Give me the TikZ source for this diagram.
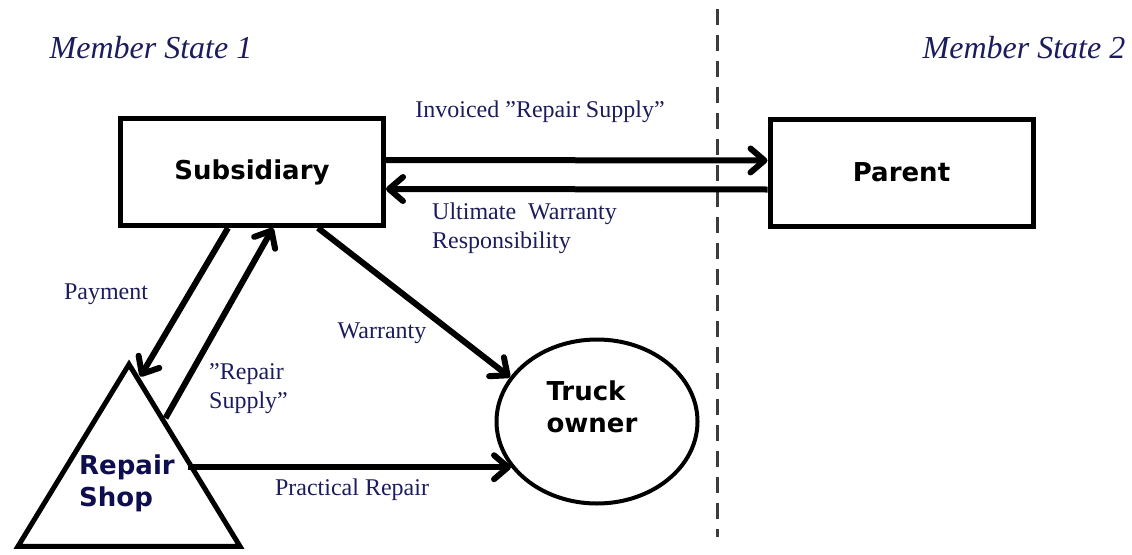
\documentclass[tikz,border=0pt]{standalone}
\usepackage{fontspec}
\setmainfont{Liberation Serif}
\newfontfamily\boxfont{DejaVu Sans}
\usetikzlibrary{arrows.meta,positioning,shapes.geometric}
\definecolor{ink}{HTML}{000000}
\definecolor{navy}{HTML}{1C1C5C}
\definecolor{shopnavy}{HTML}{0E0E4E}
\definecolor{dashgray}{HTML}{3C3C3C}
\tikzset{
  box/.style={draw=ink, line width=5pt, fill=white, minimum width=263pt, minimum height=107pt, inner sep=0pt, font=\boxfont\bfseries\fontsize{26}{32}\selectfont},
  boxtext/.style={font=\boxfont\bfseries\fontsize{26}{32}\selectfont, text=ink, align=left},
  shoptext/.style={font=\boxfont\bfseries\fontsize{26}{32}\selectfont, text=shopnavy, align=left},
  shopshape/.style={isosceles triangle, shape border rotate=90, isosceles triangle stretches, draw=ink, line width=5pt, minimum width=222pt, minimum height=182pt, inner sep=0pt},
  ownershape/.style={ellipse, draw=ink, line width=4pt, minimum width=201pt, minimum height=164pt, inner sep=0pt},
  state/.style={font=\itshape\fontsize{32}{38}\selectfont, text=navy},
  flow/.style={font=\fontsize{24}{29}\selectfont, text=navy, inner sep=0pt},
  arrow/.style={-{Straight Barb[length=14pt,width=24pt,round]}, line width=6pt, draw=ink},
  divider/.style={dashgray, line width=3pt, dash pattern=on 16pt off 10pt}
}
\begin{document}
\begin{tikzpicture}[x=1pt,y=-1pt]
\useasboundingbox (0,0) rectangle (1132,554);
\node[state] (ms1) at (151,48) {Member State 1};
\node[state] (ms2) at (1024,48) {Member State 2};
\draw[divider] (717,9) -- (717,537);
\node[box] (sub) at (252,172) {Subsidiary};
\node[box] (parent) at (901.5,172.5) {Parent};
\node[shopshape, label={[shoptext, xshift=-2pt, yshift=1pt]center:Repair\\Shop}] (shop) at (129,484) {};
\node[ownershape, label={[boxtext, xshift=-5pt, yshift=15pt]center:Truck\\owner}] (owner) at (597,421.5) {};
\draw[arrow] ([yshift=12pt]sub.east) -- ([yshift=12pt]parent.west);
\draw[arrow] ([yshift=-17pt]parent.west) -- ([yshift=-17pt]sub.east);
\draw[arrow] ([xshift=-24pt]sub.south) -- (shop.84);
\draw[arrow] (shop.61) -- ([xshift=21pt]sub.south);
\draw[arrow] ([xshift=66pt]sub.south) -- (owner.153);
\draw[arrow] ([xshift=-5pt]owner.208 -| shop.17) -- (owner.208);
\node[flow] (inv) at (540,112) {Invoiced ”Repair Supply”};
\node[flow, align=left, anchor=west] (uwr) at (432,228) {Ultimate~~Warranty\\Responsibility};
\node[flow] (pay) at (106,294) {Payment};
\node[flow, align=left, anchor=west] (rsup) at (209,389) {”Repair\\Supply”};
\node[flow] (war) at (382,333) {Warranty};
\node[flow] (prac) at (352,490) {Practical Repair};
\end{tikzpicture}
\end{document}
